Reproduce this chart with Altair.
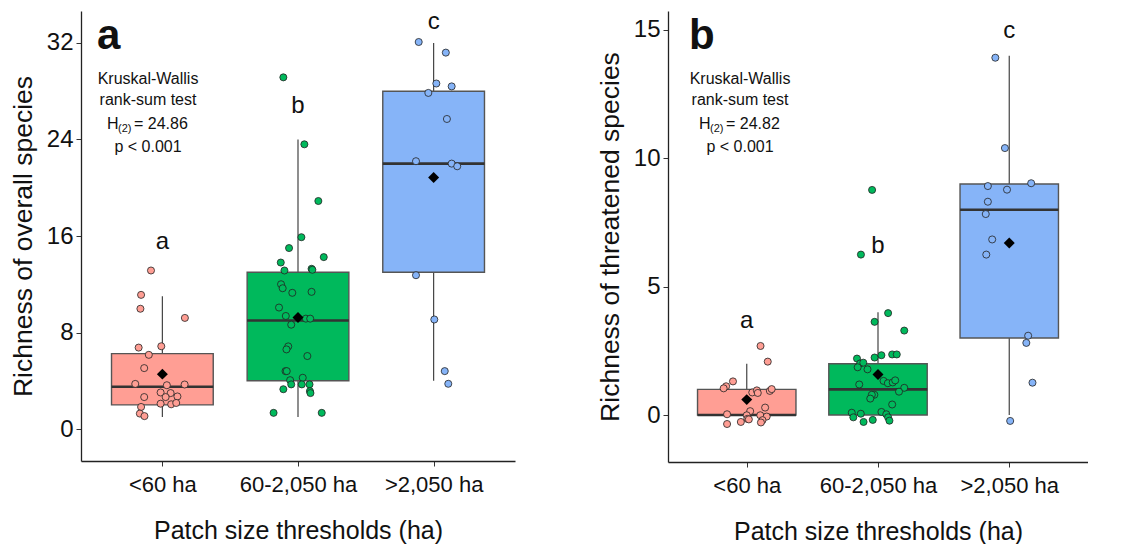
import altair as alt
import pandas as pd

FONT = "Liberation Sans"

cats = ["<60 ha", "60-2,050 ha", ">2,050 ha"]
box_fill = ["#FF9E94", "#00B95C", "#86B4F8"]
pt_fill = ["#F8766D", "#139813", "#4A90E8"]
group_letters = ["a", "b", "c"]

# ---------------- Panel a: overall species ----------------
a_g1_dx = [-0.084, -0.157, -0.162, 0.166, -0.175, -0.008, -0.1, -0.134, -0.2, 0.033, 0.164,
           -0.013, 0.061, 0.024, 0.111, -0.134, -0.013, 0.065, 0.102, -0.157, -0.166, -0.132]
a_g1_y = [13.14, 11.12, 9.97, 9.21, 6.75, 6.86, 6.15, 5.05, 3.74, 3.63, 3.69,
          3.03, 2.98, 2.65, 2.7, 2.65, 2.1, 2.05, 2.16, 1.83, 1.28, 1.07]
a_g2_dx = [-0.108, 0.047, 0.15, 0.025, -0.066, 0.19, -0.127, -0.10, 0.1, 0.106,
           -0.125, -0.113, -0.042, 0.1, -0.14, -0.09, 0.058, 0.09, -0.05, -0.072,
           -0.085, 0.069, -0.092, -0.083, 0.035, -0.058, -0.05, 0.028, 0.085, -0.108,
           0.088, 0.092, -0.18, 0.175]
a_g2_y = [29.15, 23.6, 18.9, 15.9, 15.0, 14.25, 13.8, 13.14, 13.28, 13.2,
          12.0, 11.67, 11.29, 11.37, 10.07, 9.37, 9.15, 9.15, 8.65, 6.85,
          6.6, 6.05, 4.8, 4.8, 4.25, 4.05, 3.7, 3.7, 3.7, 3.3,
          3.14, 2.98, 1.34, 1.34]
a_g3_dx = [-0.11, 0.09, 0.02, 0.133, -0.039, 0.098, -0.13, 0.133, 0.174, -0.13, 0.005, 0.082, 0.108]
a_g3_y = [32.08, 31.2, 28.64, 28.4, 27.86, 25.7, 22.2, 22.0, 21.78, 12.75, 9.08, 4.8, 3.75]

a_q1 = [2, 4, 13]
a_med = [3.5, 9, 22]
a_q3 = [6.25, 13, 28]
a_wlo = [1, 1, 4]
a_whi = [11, 24, 32]
a_mean = [4.55, 9.25, 20.85]
a_letter_y = [15.5, 26.8, 33.7]
a_ticks = [0, 8, 16, 24, 32]

# ---------------- Panel b: threatened species ----------------
b_g1_dx = [0.105, 0.16, -0.105, -0.157, -0.176, 0.042, 0.077, 0.084, 0.176, 0.19, 0.14,
           0.026, 0.0, -0.15, 0.103, 0.152, 0.005, 0.016, 0.12, -0.045, 0.108, -0.15]
b_g1_y = [2.69, 2.08, 1.31, 1.12, 1.04, 0.88, 0.96, 0.86, 0.94, 1.01, 0.29,
          0.15, -0.01, 0.03, -0.01, -0.06, -0.15, -0.17, -0.2, -0.27, -0.29, -0.35]
b_g2_dx = [-0.045, -0.13, 0.077, -0.026, 0.2, -0.026, 0.026, 0.108, 0.143, -0.16, -0.136, -0.112,
           -0.155, -0.08, 0.042, 0.075, 0.112, 0.131, -0.143, 0.2, 0.16, -0.028,
           -0.047, -0.059, 0.108, -0.2, -0.131, 0.026, 0.063, -0.188, 0.077, -0.04,
           0.087, -0.11]
b_g2_y = [8.77, 6.25, 3.97, 3.63, 3.29, 2.24, 2.33, 2.36, 2.36, 2.2, 2.01, 2.04,
          1.86, 1.78, 1.33, 1.24, 1.27, 1.35, 1.19, 1.06, 0.91, 0.79,
          0.79, 0.64, 0.41, 0.09, 0.05, 0.12, 0.03, -0.09, -0.09, -0.19,
          -0.22, -0.27]
b_g3_dx = [-0.106, -0.033, 0.167, -0.163, -0.017, -0.163, -0.179, -0.13, -0.175, 0.144, 0.13, 0.177, 0.007]
b_g3_y = [13.92, 10.4, 9.03, 8.92, 8.78, 8.31, 7.83, 6.84, 6.25, 3.09, 2.81, 1.26, -0.23]

b_q1 = [0, 0, 3]
b_med = [0, 1, 8]
b_q3 = [1, 2, 9]
b_wlo = [0, 0, 0]
b_whi = [2, 4, 14]
b_mean = [0.6, 1.58, 6.7]
b_letter_y = [3.68, 6.58, 14.97]
b_ticks = [0, 5, 10, 15]

BOX_HALF = 0.375

label_expr = " : ".join(
    [f"datum.value == {i + 1} ? '{c}'" for i, c in enumerate(cats[:-1])] + [f"'{cats[-1]}'"]
)


def panel(dxs, ys, q1, med, q3, wlo, whi, mean, let_y, ydomain, yticks, ytitle,
          width, height, tag, hval, text_cx, h_x):
    rows = []
    for gi, (dx, yy) in enumerate(zip(dxs, ys)):
        for d, v in zip(dx, yy):
            rows.append({"grp": cats[gi], "x": gi + 1 + d, "y": v})
    pts = pd.DataFrame(rows)
    st = pd.DataFrame({
        "grp": cats, "pos": [1, 2, 3],
        "x1": [i + 1 - BOX_HALF for i in range(3)],
        "x2": [i + 1 + BOX_HALF for i in range(3)],
        "q1": q1, "med": med, "q3": q3, "wlo": wlo, "whi": whi, "mean": mean,
        "lety": let_y, "let": group_letters,
    })

    xs = alt.Scale(domain=[0.4, 3.6], nice=False, zero=False)
    ys_ = alt.Scale(domain=ydomain, nice=False, zero=False)
    xaxis = alt.Axis(values=[1, 2, 3], labelExpr=label_expr, title="Patch size thresholds (ha)",
                     grid=False, domainColor="#222", domainWidth=1.3, tickColor="#333",
                     tickSize=5, labelFontSize=22, labelFont=FONT, labelColor="#111",
                     labelPadding=8, titleFontSize=25, titleFont=FONT, titleFontWeight="normal",
                     titleColor="#111", titlePadding=23)
    yaxis = alt.Axis(values=yticks, title=ytitle, grid=False, domainColor="#222", domainWidth=1.3,
                     tickColor="#333", tickSize=5, labelFontSize=24, labelFont=FONT,
                     labelColor="#111", labelPadding=3, titleFontSize=26.5, titleFont=FONT,
                     titleFontWeight="normal", titleColor="#111", titlePadding=9)
    fill_box = alt.Fill("grp:N", scale=alt.Scale(domain=cats, range=box_fill), legend=None)
    fill_pt = alt.Fill("grp:N", scale=alt.Scale(domain=cats, range=pt_fill), legend=None)

    base = alt.Chart(st)
    whisk = base.mark_rule(color="#444", strokeWidth=1.2).encode(
        x=alt.X("pos:Q", scale=xs, axis=xaxis),
        y=alt.Y("wlo:Q", scale=ys_, axis=yaxis),
        y2="whi:Q",
    )
    box = base.mark_rect(stroke="#555", strokeWidth=1.4).encode(
        x=alt.X("x1:Q", scale=xs), x2="x2:Q",
        y=alt.Y("q1:Q", scale=ys_), y2="q3:Q", fill=fill_box,
    )
    medl = base.mark_rule(color="#333", strokeWidth=2.6).encode(
        x=alt.X("x1:Q", scale=xs), x2="x2:Q", y=alt.Y("med:Q", scale=ys_),
    )
    points = alt.Chart(pts).mark_circle(size=50, opacity=1, stroke="#222", strokeWidth=0.8).encode(
        x=alt.X("x:Q", scale=xs), y=alt.Y("y:Q", scale=ys_), fill=fill_pt,
    )
    meanp = base.mark_point(shape="diamond", filled=True, color="black", size=120, opacity=1).encode(
        x=alt.X("pos:Q", scale=xs), y=alt.Y("mean:Q", scale=ys_),
    )
    lets = base.mark_text(fontSize=24, font=FONT, color="#111", baseline="middle").encode(
        x=alt.X("pos:Q", scale=xs), y=alt.Y("lety:Q", scale=ys_), text="let:N",
    )

    one = pd.DataFrame({"k": [0]})

    def txt(s, x, y, size=16, align="center", weight="normal", baseline="middle"):
        return alt.Chart(one).mark_text(text=s, fontSize=size, font=FONT, align=align,
                                        fontWeight=weight, baseline=baseline, color="#111").encode(
            x=alt.value(x), y=alt.value(y))

    ann = [
        txt(tag, text_cx - 51, 38, size=42, align="left", weight="bold", baseline="alphabetic"),
        txt("Kruskal-Wallis", text_cx, 68),
        txt("rank-sum test", text_cx, 89),
        txt("H", h_x, 113, align="left"),
        txt("(2)", h_x + 11, 118, size=11, align="left"),
        txt("= " + hval, h_x + 27, 113, align="left"),
        txt("p < 0.001", text_cx, 136),
    ]
    return alt.layer(whisk, box, medl, points, meanp, lets, *ann).properties(
        width=width, height=height)


pa = panel([a_g1_dx, a_g2_dx, a_g3_dx], [a_g1_y, a_g2_y, a_g3_y], a_q1, a_med, a_q3, a_wlo, a_whi,
           a_mean, a_letter_y, [-2.65, 34.65], a_ticks, "Richness of overall species",
           434, 450, "a", "24.86", 67, 26)
pb = panel([b_g1_dx, b_g2_dx, b_g3_dx], [b_g1_y, b_g2_y, b_g3_y], b_q1, b_med, b_q3, b_wlo, b_whi,
           b_mean, b_letter_y, [-1.83, 15.74], b_ticks, "Richness of threatened species",
           420, 451, "b", "24.82", 72, 31)

chart = alt.hconcat(pa, pb, spacing=82).properties(
    padding={"left": 2, "top": 2, "right": 0, "bottom": 0},
    background="white",
).configure_view(strokeWidth=0, stroke="transparent")

chart.save("out.html", embed_options={"renderer": "svg", "actions": False})
